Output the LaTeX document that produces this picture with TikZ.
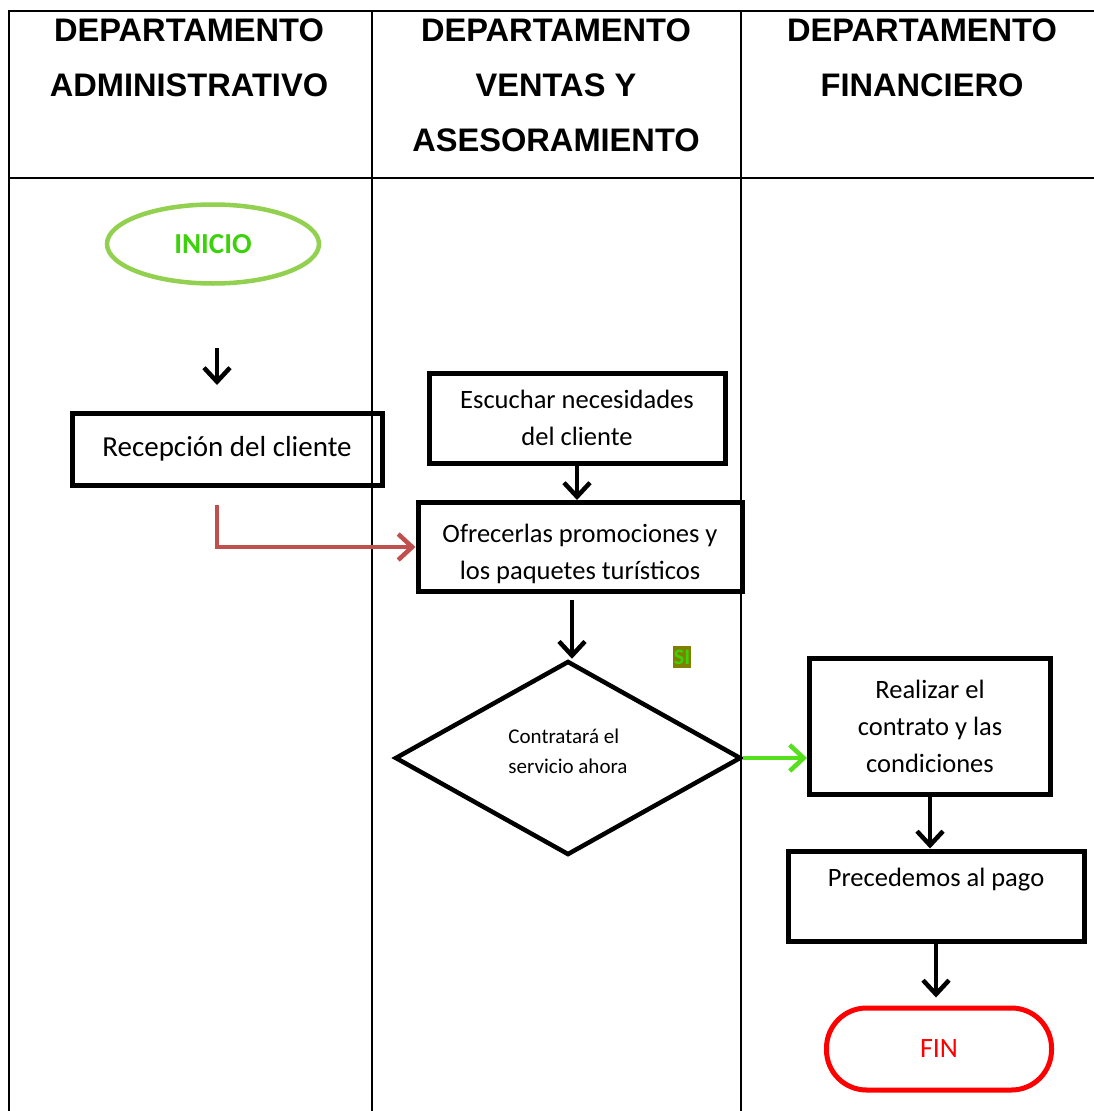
\documentclass[tikz,border=0pt]{standalone}
\usepackage{fontspec}
\setmainfont{Carlito}
\newfontfamily\headfont{Liberation Sans}
\usetikzlibrary{shapes.geometric, arrows.meta}

\definecolor{inigreen}{HTML}{92D050}
\definecolor{initext}{HTML}{3CD20A}
\definecolor{redarrow}{HTML}{C0504D}
\definecolor{siarrow}{HTML}{55E01E}
\definecolor{olivebg}{HTML}{7F7F00}

\begin{document}
\begin{tikzpicture}[x=1pt, y=-1pt,
        head/.style={align=center, font=\headfont\bfseries\fontsize{32.6}{55}\selectfont},
        box/.style={draw, line width=5pt, align=center, inner sep=0pt, font=\fontsize{26.5}{37}\selectfont},
        arr/.style={-{Straight Barb[length=14pt, width=26pt]}, line width=4.5pt},
        lane/.style={line width=1.5pt}]
    \useasboundingbox (0,0) rectangle (1094,1111);

    % swimlanes
    \draw[lane] (1094,11) -- (9,11) -- (9,1111);
    \draw[lane] (9,178) -- (1094,178);
    \foreach \x in {372, 741} {
        \draw[lane] (\x,11) -- (\x,1111);
    }
    \node[head] (h1) at (189,58) {DEPARTAMENTO\\ADMINISTRATIVO};
    \node[head] (h2) at (556,85) {DEPARTAMENTO\\VENTAS Y\\ASESORAMIENTO};
    \node[head] (h3) at (922,58) {DEPARTAMENTO\\FINANCIERO};

    % nodes
    \node[draw=inigreen, ellipse, line width=4.5pt, minimum width=212pt, minimum height=79pt,
        text=initext, font=\bfseries\fontsize{29}{30}\selectfont] (inicio) at (213,244) {INICIO};
    \node[box, minimum width=310pt, minimum height=72pt, font=\fontsize{29}{37}\selectfont] (recep) at (227,449) {Recepción del cliente};
    \node[box, minimum width=296pt, minimum height=90pt] (escuchar) at (577,418) {Escuchar necesidades\\del cliente};
    \node[box, minimum width=324pt, minimum height=89pt,
        label={[align=center, yshift=-7pt, font=\fontsize{26.5}{37}\selectfont]center:Ofrecerlas promociones y\\los paquetes turísticos}] (ofrecer) at (580,547) {};
    \node[draw, diamond, line width=4.5pt, minimum width=346pt, minimum height=194pt, inner sep=0pt,
        label={[align=left, yshift=7pt, font=\fontsize{21}{30}\selectfont]center:Contratará el\\servicio ahora}] (decide) at (568,758) {};
    \node[fill=olivebg, text=initext, inner xsep=1pt, inner ysep=4pt, font=\bfseries\fontsize{22}{24}\selectfont] (si) at (682,657) {SI};
    \node[box, minimum width=241pt, minimum height=136pt] (realizar) at (930,726) {Realizar el\\contrato y las\\condiciones};
    \node[box, minimum width=296pt, minimum height=90pt] (pago) at (936,896) {Precedemos al pago\\\mbox{}};
    \node[draw=red, rounded corners=40pt, line width=5pt, minimum width=225pt, minimum height=82pt,
        text=red, font=\fontsize{28}{30}\selectfont] (fin) at (939,1049) {FIN};

    % connectors
    \coordinate (c1) at (217,348);
    \coordinate (c2) at (217,385);
    \coordinate (c3) at (217,505);
    \coordinate (c4) at (572,600);
    \draw[arr] (c1) -- (c2);
    \draw[arr, redarrow] (c3) |- (ofrecer.west);
    \draw[arr] (escuchar.south) -- (escuchar.south |- ofrecer.north);
    \draw[arr] (c4) -- (c4 |- decide.north);
    \draw[arr, siarrow] (decide.east) -- (decide.east -| realizar.west);
    \draw[arr] (realizar.south) -- (realizar.south |- pago.north);
    \draw[arr, shorten >=8pt] (pago.south) -- (pago.south |- fin.north);
\end{tikzpicture}
\end{document}
